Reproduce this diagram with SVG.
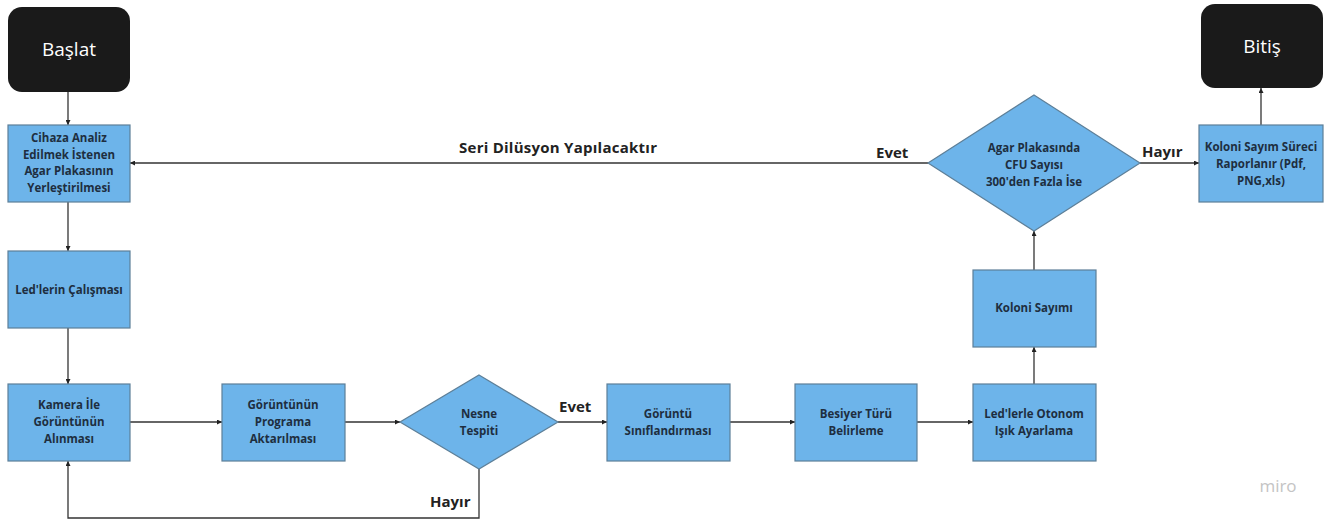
<svg xmlns="http://www.w3.org/2000/svg" width="1332" height="523" viewBox="0 0 1332 523">
<defs>
<marker id="ah" viewBox="0 0 10 10" refX="10" refY="5" markerWidth="5" markerHeight="5" orient="auto" markerUnits="userSpaceOnUse"><path d="M0,0 L10,5 L0,10 z" fill="#222"/></marker>
<style>
.box{fill:#6db4ea;stroke:#5d7f98;stroke-width:1.2}
.term{fill:#1a1a1a}
.t{font-family:"Open Sans","Noto Sans","Liberation Sans",sans-serif;font-weight:700;font-size:11.5px;fill:#1e2e40;text-anchor:middle}
.tw{font-family:"Open Sans","Noto Sans","Liberation Sans",sans-serif;font-size:19px;fill:#fff;text-anchor:middle}
.lb{font-family:"Open Sans","Noto Sans","Liberation Sans",sans-serif;font-weight:700;font-size:15px;fill:#222}
.c{fill:none;stroke:#333;stroke-width:1.3;marker-end:url(#ah)}
.cn{fill:none;stroke:#333;stroke-width:1.3}
</style>
</defs>
<rect width="1332" height="523" fill="#fff"/>
<g id="connectors">
<path class="c" d="M68,92 V125"/>
<path class="c" d="M68,202 V251"/>
<path class="c" d="M68,328 V384"/>
<path class="c" d="M130,422 H222"/>
<path class="c" d="M345,422 H400"/>
<path class="c" d="M558,422 H607"/>
<path class="c" d="M730,422 H795"/>
<path class="c" d="M917,422 H973"/>
<path class="c" d="M1034,384 V347"/>
<path class="c" d="M1034,270 V231"/>
<path class="c" d="M1140,163 H1199"/>
<path class="c" d="M1261,125 V88"/>
<path class="c" d="M928,163 H130"/>
<path class="c" d="M479,469 V518 H68 V461"/>
<text class="lb" x="459" y="153" textLength="198">Seri Dilüsyon Yapılacaktır</text>
<text class="lb" x="876" y="158">Evet</text>
<text class="lb" x="1142" y="157">Hayır</text>
<text class="lb" x="559" y="412">Evet</text>
<text class="lb" x="430" y="507">Hayır</text>
</g>
<g id="n-baslat"><rect class="term" x="8" y="7" width="122" height="85" rx="14"/><text class="tw" x="69" y="56">Başlat</text></g>
<g id="n-bitis"><rect class="term" x="1201" y="4" width="122" height="84" rx="14"/><text class="tw" x="1262" y="53">Bitiş</text></g>
<g id="n-cihaza"><rect class="box" x="8" y="125" width="122" height="77"/><text class="t" x="69" y="142">Cihaza Analiz</text><text class="t" x="69" y="159">Edilmek İstenen</text><text class="t" x="69" y="175">Agar Plakasının</text><text class="t" x="69" y="192">Yerleştirilmesi</text></g>
<g id="n-led"><rect class="box" x="8" y="251" width="122" height="77"/><text class="t" x="69" y="294">Led'lerin Çalışması</text></g>
<g id="n-kamera"><rect class="box" x="8" y="384" width="122" height="77"/><text class="t" x="69" y="409">Kamera İle</text><text class="t" x="69" y="426">Görüntünün</text><text class="t" x="69" y="443">Alınması</text></g>
<g id="n-aktar"><rect class="box" x="222" y="384" width="123" height="77"/><text class="t" x="283" y="409">Görüntünün</text><text class="t" x="283" y="426">Programa</text><text class="t" x="283" y="443">Aktarılması</text></g>
<g id="n-nesne"><path class="box" d="M479,375 L558,422 L479,469 L400,422 Z"/><text class="t" x="479" y="418">Nesne</text><text class="t" x="479" y="435">Tespiti</text></g>
<g id="n-sinif"><rect class="box" x="607" y="384" width="123" height="77"/><text class="t" x="668" y="418">Görüntü</text><text class="t" x="668" y="435">Sınıflandırması</text></g>
<g id="n-besiyer"><rect class="box" x="795" y="384" width="122" height="77"/><text class="t" x="856" y="418">Besiyer Türü</text><text class="t" x="856" y="435">Belirleme</text></g>
<g id="n-ledotonom"><rect class="box" x="973" y="384" width="123" height="77"/><text class="t" x="1034" y="418">Led'lerle Otonom</text><text class="t" x="1034" y="435">Işık Ayarlama</text></g>
<g id="n-koloni"><rect class="box" x="973" y="270" width="123" height="77"/><text class="t" x="1034" y="312">Koloni Sayımı</text></g>
<g id="n-agar"><path class="box" d="M1034,95 L1140,163 L1034,231 L928,163 Z"/><text class="t" x="1034" y="152">Agar Plakasında</text><text class="t" x="1034" y="169">CFU Sayısı</text><text class="t" x="1034" y="186">300'den Fazla İse</text></g>
<g id="n-rapor"><rect class="box" x="1199" y="125" width="124" height="77"/><text class="t" x="1261" y="151">Koloni Sayım Süreci</text><text class="t" x="1261" y="168">Raporlanır (Pdf,</text><text class="t" x="1261" y="185">PNG,xls)</text></g>
<text x="1278" y="492" font-family="'Open Sans','Noto Sans',sans-serif" font-size="17" fill="#c4c4c4" text-anchor="middle">miro</text>
</svg>
